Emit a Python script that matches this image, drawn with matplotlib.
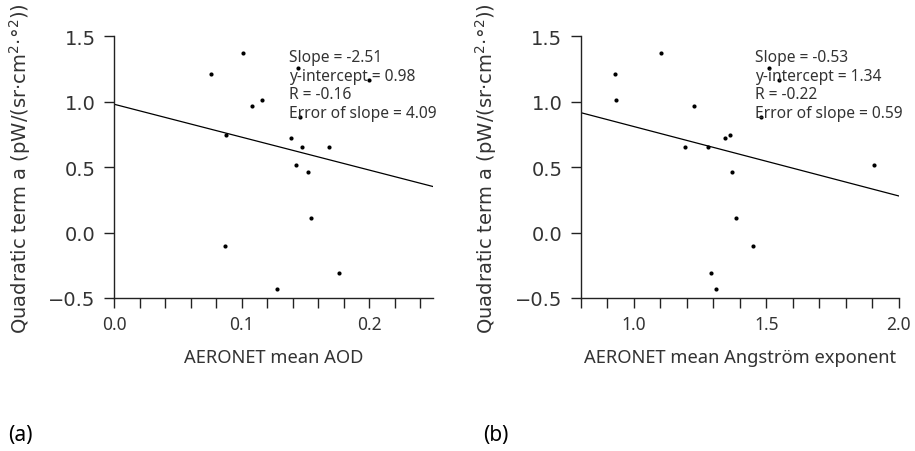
import numpy as np
import matplotlib
matplotlib.use("Agg")
import matplotlib.pyplot as plt

# quadratic term a, shared by both panels
quad_a = [1.213, 1.371, 0.966, 1.012, 0.746, -0.105, -0.434, 0.719, 1.257,
          0.884, 0.655, 0.520, 0.463, 0.109, 0.652, -0.309, 1.165]
# AERONET mean AOD
aod = [0.076, 0.1007, 0.108, 0.1159, 0.0878, 0.087, 0.1274, 0.1389, 0.1439,
       0.1457, 0.1473, 0.1423, 0.1522, 0.1546, 0.1687, 0.1764, 0.200]
# AERONET mean Angstrom exponent
angstrom = [0.928, 1.102, 1.227, 0.933, 1.361, 1.450, 1.310, 1.345, 1.509,
            1.481, 1.191, 1.907, 1.371, 1.384, 1.281, 1.291, 1.549]

fit_a = {"slope": -2.51, "intercept": 0.98, "r": -0.16, "err": 4.09}
fit_b = {"slope": -0.53, "intercept": 1.34, "r": -0.22, "err": 0.59}

ylabel = "Quadratic term a (pW/(sr\u00b7cm$^2$\u00b7\u00b0$^2$))"
text_col = "#333333"
label_font = "Noto Sans"

fig = plt.figure(figsize=(9.15, 4.52), dpi=100)
ax1 = fig.add_axes([0.1251, 0.3385, 0.3478, 0.579])
ax2 = fig.add_axes([0.635, 0.3385, 0.3472, 0.579])


def draw_panel(ax, x, y, fit, xlim, minor_step, major, xlabel):
    ax.scatter(x, y, s=9, color="black", zorder=3, linewidths=0)
    xs = np.array(xlim)
    ax.plot(xs, fit["intercept"] + fit["slope"] * xs, color="black", lw=0.9)

    ax.set_xlim(*xlim)
    ax.set_ylim(-0.5, 1.5)
    for s in ["top", "right"]:
        ax.spines[s].set_visible(False)
    for s in ["left", "bottom"]:
        ax.spines[s].set_linewidth(1.0)
        ax.spines[s].set_color("#222222")

    ticks = np.arange(xlim[0], xlim[1] + 1e-9, minor_step)
    ax.set_xticks(ticks)
    ax.set_xticklabels([f"{t:.1f}" if any(abs(t - m) < 1e-9 for m in major) else ""
                        for t in ticks], fontfamily=label_font, fontsize=12.5,
                       color=text_col)
    ax.set_yticks([-0.5, 0.0, 0.5, 1.0, 1.5])
    ax.set_yticklabels(["\u22120.5", "0.0", "0.5", "1.0", "1.5"],
                       fontsize=14, color=text_col)
    ax.tick_params(axis="x", length=7.5, width=1.0, pad=5, color="#222222")
    ax.tick_params(axis="y", length=7.5, width=1.0, pad=6, color="#222222")

    ax.set_xlabel(xlabel, fontfamily=label_font, fontsize=13.2, color=text_col)
    ax.xaxis.set_label_coords(0.5, -(358 - 299) / 261.7)
    ax.xaxis.label.set_va("center")
    ax.set_ylabel(ylabel, fontsize=14, color=text_col)
    ax.yaxis.set_label_coords(-0.257, 0.5)

    txt = (f"Slope = {fit['slope']:.2f}\n"
           f"y-intercept = {fit['intercept']:.2f}\n"
           f"R = {fit['r']:.2f}\n"
           f"Error of slope = {fit['err']:.2f}")
    ax.text(0.549, 0.95, txt, transform=ax.transAxes, fontfamily=label_font,
            fontsize=11.2, color=text_col, va="top", ha="left", linespacing=1.2)


draw_panel(ax1, aod, quad_a, fit_a, (0.0, 0.25), 0.02, [0.0, 0.1, 0.2],
           "AERONET mean AOD")
draw_panel(ax2, angstrom, quad_a, fit_b, (0.8, 2.0), 0.1, [1.0, 1.5, 2.0],
           "AERONET mean Angstr\u00f6m exponent")

fig.text(20 / 915, 1 - 436 / 452, "(a)", fontfamily=label_font, fontsize=15,
         color="black", ha="center", va="center")
fig.text(496 / 915, 1 - 436 / 452, "(b)", fontfamily=label_font, fontsize=15,
         color="black", ha="center", va="center")

fig.savefig("out.png", dpi=100)
